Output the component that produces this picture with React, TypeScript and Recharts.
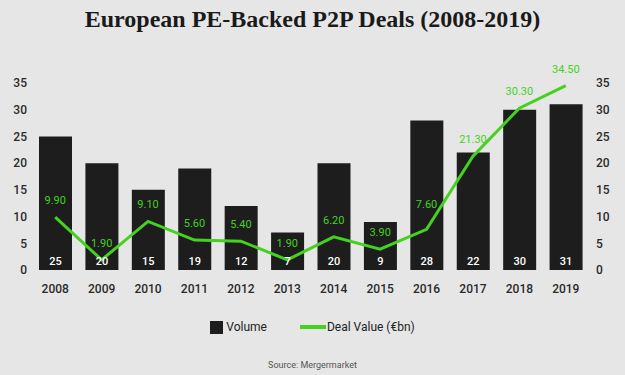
import { Bar, ComposedChart, LabelList, Line, XAxis, YAxis } from "recharts"

// Years, deal counts and total deal value (€bn).
const years = ["2008", "2009", "2010", "2011", "2012", "2013", "2014", "2015", "2016", "2017", "2018", "2019"]
const volume = [25, 20, 15, 19, 12, 7, 20, 9, 28, 22, 30, 31]
const dealValue = [9.9, 1.9, 9.1, 5.6, 5.4, 1.9, 6.2, 3.9, 7.6, 21.3, 30.3, 34.5]
const yTicks = [0, 5, 10, 15, 20, 25, 30, 35]

const BG = "#e6e6e6"
const BAR = "#1d1d1d"
const GREEN = "#45d11f"
const AXIS_FONT = "Roboto, 'Noto Sans', sans-serif"

const data = years.map((year, i) => ({ year, volume: volume[i], value: dealValue[i] }))

const tickStyle = { fontFamily: AXIS_FONT, fontSize: 12, fontWeight: 500, fill: "#2a2a2a" }

function VolumeLabel(props: any) {
  const { x, y, width, height, value } = props
  return (
    <text
      x={x + width / 2}
      y={y + height - 5}
      textAnchor="middle"
      fill="#ffffff"
      fontFamily={AXIS_FONT}
      fontSize={11}
      fontWeight={500}
    >
      {value}
    </text>
  )
}

function ValueLabel(props: any) {
  const { x, y, value, index } = props
  // lift the label clear of a steeply rising segment that follows it
  const next = dealValue[index + 1]
  const lift = next !== undefined && next - dealValue[index] > 10 ? 21 : 13
  return (
    <text
      x={x}
      y={y - lift}
      textAnchor="middle"
      fill={GREEN}
      fontFamily={AXIS_FONT}
      fontSize={11}
    >
      {Number(value).toFixed(2)}
    </text>
  )
}

export default function App() {
  return (
    <div
      style={{
        position: "absolute",
        left: 0,
        top: 0,
        width: 625,
        height: 375,
        background: BG,
        overflow: "hidden",
      }}
    >
      <div
        style={{
          position: "absolute",
          top: 6,
          width: 625,
          textAlign: "center",
          fontFamily: "'Liberation Serif', serif",
          fontWeight: 700,
          fontSize: 24,
          color: "#1a1a1a",
        }}
      >
        European PE-Backed P2P Deals (2008-2019)
      </div>

      <ComposedChart
        width={625}
        height={375}
        data={data}
        margin={{ top: 83, right: 0, bottom: 0, left: 0 }}
        style={{ position: "absolute", left: 0, top: 0 }}
      >
        <XAxis
          dataKey="year"
          axisLine={false}
          tickLine={false}
          tickSize={6}
          tickMargin={8}
          height={105}
          tick={tickStyle}
          interval={0}
        />
        <YAxis
          yAxisId="left"
          domain={[0, 35]}
          ticks={yTicks}
          axisLine={false}
          tickLine={false}
          tickSize={3}
          tickMargin={2}
          width={32}
          tick={tickStyle}
        />
        <YAxis
          yAxisId="right"
          orientation="right"
          domain={[0, 35]}
          ticks={yTicks}
          axisLine={false}
          tickLine={false}
          tickSize={5}
          tickMargin={2}
          width={36}
          tick={tickStyle}
        />
        <Bar yAxisId="left" dataKey="volume" fill={BAR} barSize={33} isAnimationActive={false}>
          <LabelList dataKey="volume" content={VolumeLabel} />
        </Bar>
        <Line
          yAxisId="right"
          dataKey="value"
          stroke={GREEN}
          strokeWidth={3}
          dot={false}
          activeDot={false}
          isAnimationActive={false}
        >
          <LabelList dataKey="value" content={ValueLabel} />
        </Line>
      </ComposedChart>

      <div
        style={{
          position: "absolute",
          top: 320,
          left: 0,
          width: 625,
          display: "flex",
          justifyContent: "center",
          alignItems: "center",
          fontFamily: AXIS_FONT,
          fontSize: 12,
          color: "#222",
        }}
      >
        <span style={{ display: "inline-block", width: 13, height: 13, background: BAR, marginRight: 3 }} />
        <span style={{ marginRight: 33 }}>Volume</span>
        <span style={{ display: "inline-block", width: 26, height: 4, background: GREEN, marginRight: 1 }} />
        <span>Deal Value (€bn)</span>
      </div>

      <div
        style={{
          position: "absolute",
          top: 360,
          width: 625,
          textAlign: "center",
          fontFamily: AXIS_FONT,
          fontSize: 9,
          color: "#555",
        }}
      >
        Source: Mergermarket
      </div>
    </div>
  )
}
